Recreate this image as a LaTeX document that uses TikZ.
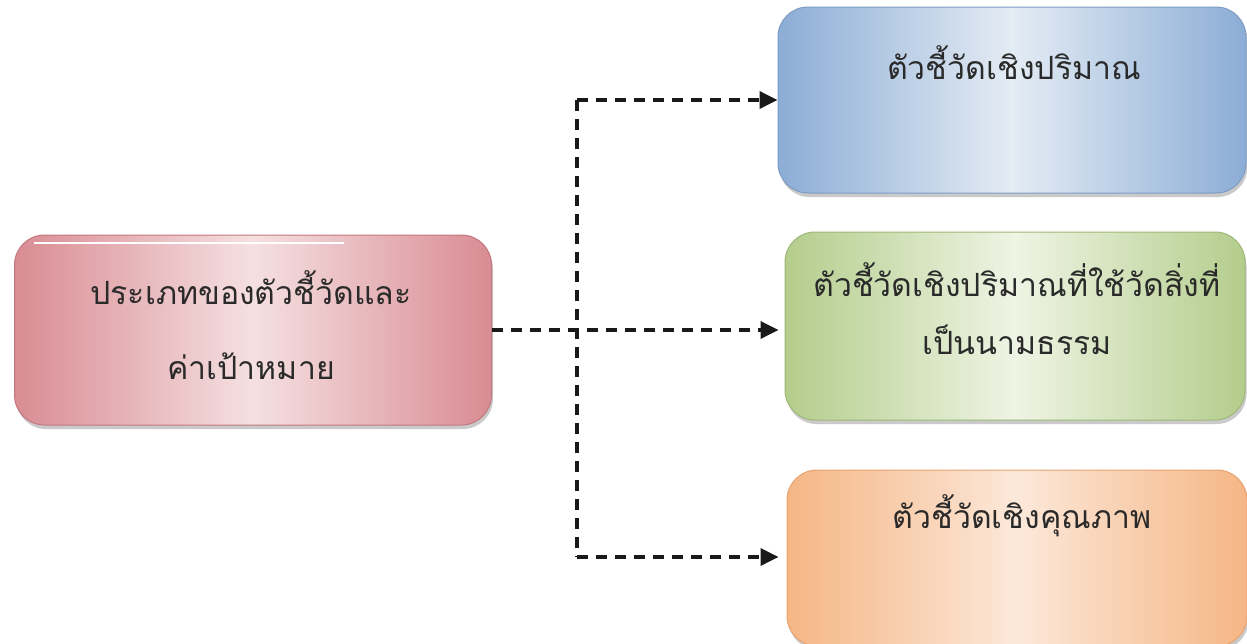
\documentclass[tikz,border=0pt]{standalone}
\usepackage{fontspec}
\newfontfamily\thaifont[Script=Thai]{Loma}
\usetikzlibrary{shadows,arrows.meta}
\definecolor{pinkedge}{HTML}{D98C93}
\definecolor{pinkmid}{HTML}{F5E0E1}
\definecolor{pinkline}{HTML}{C27880}
\definecolor{blueedge}{HTML}{8CADD6}
\definecolor{bluemid}{HTML}{E4ECF4}
\definecolor{blueline}{HTML}{7C9CC5}
\definecolor{greenedge}{HTML}{B3CD8C}
\definecolor{greenmid}{HTML}{EFF4E4}
\definecolor{greenline}{HTML}{9DB878}
\definecolor{orangeedge}{HTML}{F5B685}
\definecolor{orangemid}{HTML}{FCE8D9}
\definecolor{orangeline}{HTML}{E8A371}
\definecolor{txt}{HTML}{2A2A2A}
\begin{document}
\begin{tikzpicture}[x=1pt,y=-1pt,
  box/.style={rounded corners=30pt, line width=1pt, inner sep=0pt,
    shading=axis, shading angle=65,
    drop shadow={shadow xshift=1.5pt, shadow yshift=-4pt, opacity=0.35, fill=black!60}},
  label/.style={font=\thaifont\fontsize{32}{40}\selectfont, text=txt, align=center, inner sep=0pt},
  conn/.style={line width=3.5pt, dash pattern=on 11pt off 8pt, black!90},
  tip/.style={-{Triangle[length=18pt,width=17pt]}}]
\useasboundingbox (0,0) rectangle (1247,643);
\clip (0,0) rectangle (1247,643);
% boxes
\node[box, draw=pinkline, left color=pinkedge, right color=pinkedge, middle color=pinkmid,
  minimum width=477pt, minimum height=190pt] (pink) at (253,330) {};
\node[box, draw=blueline, left color=blueedge, right color=blueedge, middle color=bluemid,
  minimum width=468pt, minimum height=186pt] (blue) at (1012,100) {};
\node[box, draw=greenline, left color=greenedge, right color=greenedge, middle color=greenmid,
  minimum width=460pt, minimum height=188pt] (green) at (1015,326) {};
\node[box, draw=orangeline, left color=orangeedge, right color=orangeedge, middle color=orangemid,
  minimum width=460pt, minimum height=176pt] (orange) at (1017,558) {};
% highlight on pink box
\draw[white, line width=2pt] (pink.north west) ++(20pt,-8pt) coordinate (hl1) -- ++(310pt,0) coordinate (hl2);
% texts
\node[label, font=\thaifont\fontsize{32}{75}\selectfont] (tpink) at (251,325) {ประเภทของตัวชี้วัดและ\\ค่าเป้าหมาย};
\node[label] (tblue) at (1014,63) {ตัวชี้วัดเชิงปริมาณ};
\node[label, font=\thaifont\fontsize{32}{58}\selectfont] (tgreen) at (1017,309) {ตัวชี้วัดเชิงปริมาณที่ใช้วัดสิ่งที่\\เป็นนามธรรม};
\node[label] (torange) at (1022,516) {ตัวชี้วัดเชิงคุณภาพ};
% connectors
\coordinate (jt) at (577,100);
\coordinate (jb) at (577,557);
\draw[conn] (jt) -- (jb);
\draw[conn, tip] (jt) -- (blue.west);
\draw[conn, tip, shorten >=6pt] (pink.east) -- (green.west |- pink.east);
\draw[conn, tip, shorten >=8pt] (jb) -- (orange.west |- jb);
\end{tikzpicture}
\end{document}
